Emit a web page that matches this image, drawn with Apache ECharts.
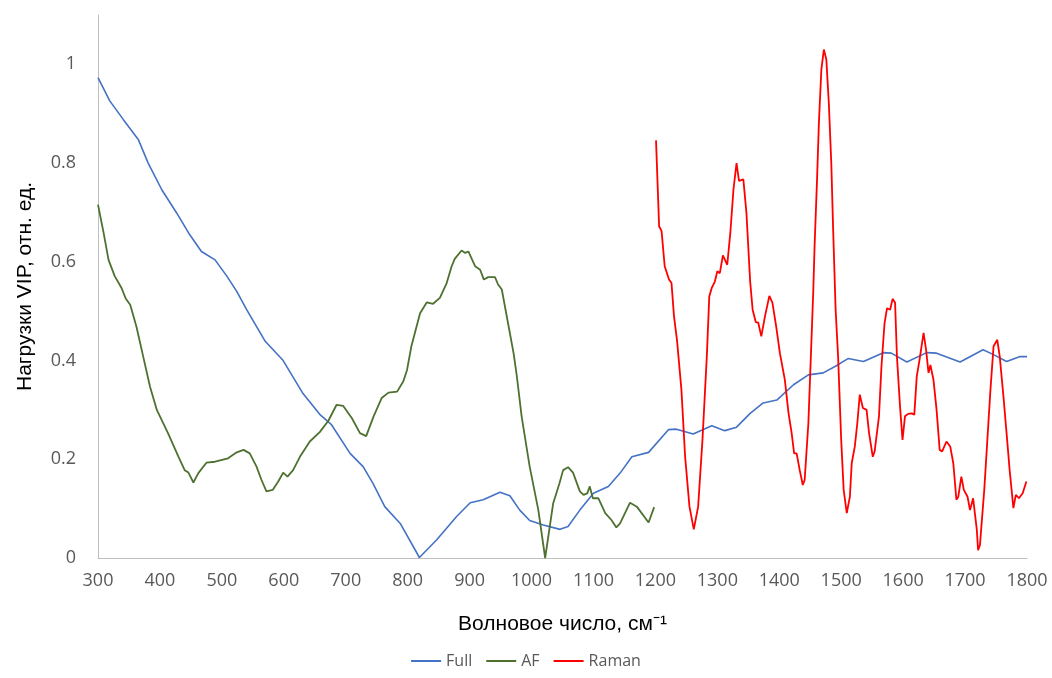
<!DOCTYPE html>
<html>
<head>
<meta charset="utf-8">
<script src="https://cdn.jsdelivr.net/npm/echarts@6/dist/echarts.min.js"></script>
<style>html,body{margin:0;padding:0;background:#fff;}#c{width:1052px;height:678px;}</style>
</head>
<body>
<div id="c"></div>
<script>
var seriesNames = ['Full', 'AF', 'Raman'];
var xTicks = [300, 1800, 100];
var yTicks = [0, 1.1, 0.2];

var fullX = [300,319,341,365,381,403,427,446,467,489,508,524,540,570,599,631,658,677,707,728,744,763,788,819,847,879,901,922,949,965,981,997,1019,1046,1059,1078,1100,1124,1143,1162,1189,1221,1234,1261,1291,1312,1331,1353,1374,1396,1423,1447,1471,1490,1511,1536,1568,1581,1606,1638,1654,1692,1729,1746,1767,1789,1800];
var fullY = [0.973,0.926,0.888,0.848,0.80,0.746,0.699,0.659,0.621,0.604,0.571,0.540,0.503,0.439,0.400,0.333,0.291,0.27,0.212,0.185,0.151,0.104,0.07,0.001,0.037,0.084,0.112,0.118,0.133,0.126,0.097,0.076,0.067,0.058,0.064,0.097,0.131,0.145,0.172,0.205,0.214,0.26,0.261,0.251,0.268,0.258,0.265,0.293,0.314,0.32,0.351,0.371,0.375,0.388,0.404,0.398,0.416,0.415,0.397,0.416,0.415,0.397,0.422,0.412,0.398,0.408,0.408];

var afX = [300,309,317,327,338,345,352,362,373,384,395,413,430,440,446,454,462,475,489,510,524,535,545,556,564,572,582,591,599,606,615,626,642,658,672,685,696,710,723,733,745,758,769,783,793,799,806,820,831,841,852,863,871,876,887,893,898,909,917,923,930,941,946,952,962,971,976,984,997,1011,1022,1035,1045,1051,1059,1067,1078,1084,1090,1094,1099,1108,1119,1129,1137,1143,1159,1170,1189,1198];
var afY = [0.716,0.659,0.604,0.571,0.547,0.525,0.513,0.469,0.408,0.347,0.30,0.253,0.205,0.178,0.173,0.153,0.172,0.193,0.195,0.202,0.214,0.219,0.212,0.185,0.158,0.135,0.138,0.155,0.173,0.165,0.178,0.205,0.236,0.255,0.278,0.31,0.308,0.283,0.253,0.247,0.287,0.324,0.335,0.337,0.358,0.381,0.429,0.496,0.518,0.515,0.527,0.557,0.591,0.606,0.623,0.618,0.621,0.591,0.584,0.564,0.569,0.569,0.554,0.544,0.476,0.415,0.371,0.287,0.185,0.097,0.0,0.111,0.151,0.178,0.184,0.173,0.135,0.128,0.131,0.145,0.121,0.121,0.091,0.077,0.062,0.07,0.112,0.104,0.072,0.103];

var ramanX = [1201,1206,1210,1215,1218,1222,1226,1230,1235,1242,1248,1255,1262,1269,1276,1283,1287,1291,1296,1300,1304,1309,1316,1321,1326,1331,1335,1342,1347,1353,1357,1362,1366,1371,1377,1384,1389,1395,1401,1409,1415,1420,1424,1428,1433,1438,1441,1447,1452,1455,1457,1461,1464,1468,1472,1476,1480,1484,1487,1491,1495,1500,1504,1509,1514,1517,1522,1526,1530,1535,1541,1545,1551,1554,1557,1561,1565,1570,1574,1579,1583,1587,1590,1595,1599,1603,1608,1614,1618,1622,1626,1629,1633,1637,1641,1644,1649,1654,1659,1663,1670,1676,1681,1686,1689,1694,1698,1704,1708,1713,1719,1721,1724,1727,1731,1735,1741,1746,1752,1756,1762,1767,1772,1778,1782,1787,1793,1799];
var ramanY = [0.846,0.672,0.662,0.591,0.592,0.564,0.557,0.49,0.440,0.341,0.205,0.104,0.058,0.104,0.239,0.408,0.530,0.547,0.56,0.581,0.577,0.613,0.594,0.659,0.746,0.80,0.764,0.767,0.699,0.560,0.503,0.478,0.477,0.449,0.49,0.531,0.517,0.469,0.415,0.361,0.293,0.253,0.212,0.212,0.178,0.148,0.158,0.273,0.442,0.544,0.631,0.767,0.882,0.99,1.03,1.01,0.922,0.80,0.665,0.503,0.408,0.239,0.138,0.091,0.124,0.192,0.226,0.273,0.331,0.304,0.30,0.253,0.205,0.216,0.219,0.287,0.388,0.476,0.506,0.503,0.525,0.517,0.408,0.307,0.239,0.287,0.292,0.293,0.29,0.368,0.398,0.395,0.456,0.422,0.375,0.391,0.361,0.30,0.219,0.216,0.236,0.226,0.192,0.118,0.124,0.165,0.138,0.124,0.097,0.121,0.057,0.016,0.026,0.023,0.138,0.219,0.341,0.429,0.442,0.408,0.327,0.253,0.178,0.101,0.128,0.121,0.131,0.155];

function pairs(xs, ys) { return xs.map(function (x, i) { return [x, ys[i]]; }); }

var chart = echarts.init(document.getElementById('c'));
var tickFont = { fontFamily: 'Open Sans', fontSize: 18, color: '#595959' };
chart.setOption({
  animation: false,
  grid: { left: 98, right: 25, top: 15, bottom: 120 },
  legend: {
    bottom: 4, left: 'center',
    icon: 'rect', itemWidth: 30, itemHeight: 2, itemGap: 14,
    textStyle: { fontFamily: 'Open Sans', fontSize: 16, color: '#595959' },
    data: seriesNames
  },
  xAxis: {
    type: 'value', min: xTicks[0], max: xTicks[1], interval: xTicks[2],
    name: 'Волновое число, см⁻¹', nameLocation: 'middle', nameGap: 56,
    nameTextStyle: { fontFamily: 'Liberation Sans', fontSize: 21, color: '#000' },
    axisLine: { show: true, lineStyle: { color: '#BFBFBF', width: 1 } },
    axisTick: { show: false }, splitLine: { show: false },
    axisLabel: Object.assign({ margin: 14, formatter: function (v) { return String(v); } }, tickFont)
  },
  yAxis: {
    type: 'value', min: yTicks[0], max: yTicks[1], interval: yTicks[2],
    name: 'Нагрузки VIP, отн. ед.', nameLocation: 'middle', nameGap: 62,
    nameTextStyle: { fontFamily: 'Liberation Sans', fontSize: 21, color: '#000' },
    axisLine: { show: true, lineStyle: { color: '#BFBFBF', width: 1 } },
    axisTick: { show: false }, splitLine: { show: false },
    axisLabel: Object.assign({ margin: 22, formatter: function (v) { return v > 1.0001 ? '' : String(Math.round(v * 10) / 10); } }, tickFont)
  },
  series: [
    { name: seriesNames[0], type: 'line', data: pairs(fullX, fullY), showSymbol: false, symbol: 'none', lineStyle: { color: '#4472C4', width: 1.6 }, itemStyle: { color: '#4472C4' } },
    { name: seriesNames[1], type: 'line', data: pairs(afX, afY), showSymbol: false, symbol: 'none', lineStyle: { color: '#4E7130', width: 1.8 }, itemStyle: { color: '#4E7130' } },
    { name: seriesNames[2], type: 'line', data: pairs(ramanX, ramanY), showSymbol: false, symbol: 'none', lineStyle: { color: '#FF0000', width: 1.8 }, itemStyle: { color: '#FF0000' } }
  ]
});
</script>
</body>
</html>
